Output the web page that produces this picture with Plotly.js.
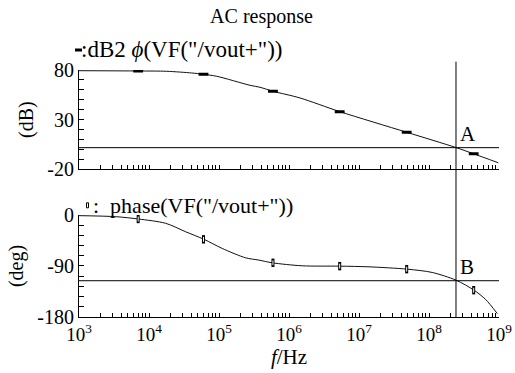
<!DOCTYPE html>
<html><head><meta charset="utf-8">
<script src="https://cdn.plot.ly/plotly-3.0.1.min.js"></script>
<style>html,body{margin:0;padding:0;background:#fff}#chart{width:515px;height:373px}</style>
</head><body><div id="chart"></div>
<script>
// ---- data ----
const freqGain = [1e3, 7.0e3, 1.79e4, 4.07e4, 5.97e4, 9.27e4, 2.77e5, 3.85e5, 5.97e5, 1.44e6, 5.35e6, 4.8e7, 2.43e8, 4.3e8, 9.77e8];
const gainDb   = [79.3, 79, 78.7, 77, 75.7, 73.7, 64.6, 62.6, 58.5, 51.8, 38, 17.3, 1.9, -4.3, -13.4];

const freqPhase = [1e3, 3.34e3, 7.03e3, 1.73e4, 3.34e4, 6.11e4, 1.11e5, 2.40e5, 3.72e5, 5.77e5, 1.55e6, 5.30e6, 1.39e7, 4.90e7, 1.11e8, 2.43e8, 4.40e8, 6.46e8, 9.46e8];
const phaseDeg  = [-1.2, -3, -7.1, -14.7, -29.6, -43, -59, -75.6, -79.6, -84.4, -89.7, -90.3, -91.5, -95.6, -101.4, -115, -132.7, -149.2, -174];

const markerFreq  = [7.0e3, 6.0e4, 5.9e5, 5.3e6, 4.8e7, 4.35e8];
const markerGain  = [79, 75.7, 58.7, 38, 17.3, -4.3];
const markerPhase = [-7.1, -43, -84.4, -90.3, -95.6, -132.7];

const cursorFreq = 2.43e8;
const unityDb = 1.8;
const crossPhase = -116;

const decades = [1e3, 1e4, 1e5, 1e6, 1e7, 1e8, 1e9];
const decadeLabels = ['10<sup>3</sup>','10<sup>4</sup>','10<sup>5</sup>','10<sup>6</sup>','10<sup>7</sup>','10<sup>8</sup>','10<sup>9</sup>'];
const digits = [2,3,4,5,6,7,8,9];
const gainTicks = [-20, 30, 80];
const gainLabels = ['-20','30','80'];
const gainMinor = [-10,0,10,20,40,50,60,70];
const phaseTicks = [-180, -90, 0];
const phaseLabels = ['-180','-90','0'];
const phaseMinor = [-162,-144,-126,-108,-72,-54,-36,-18];

// ---- build ----
const xMinor = [];
decades.slice(0, -1).forEach(d => digits.forEach(k => xMinor.push(d * k)));

const FONT = 'Liberation Serif, Times New Roman, serif';
const lineCol = '#111';

const traces = [
  {x: freqGain, y: gainDb, xaxis:'x', yaxis:'y', mode:'lines', line:{color:lineCol, width:1, shape:'spline', smoothing:0.8}, hoverinfo:'skip'},
  {x: markerFreq, y: markerGain, xaxis:'x', yaxis:'y', mode:'markers', marker:{symbol:'line-ew', size:7, line:{width:3, color:'#000'}}},
  {x: freqPhase, y: phaseDeg, xaxis:'x2', yaxis:'y2', mode:'lines', line:{color:lineCol, width:1, shape:'spline', smoothing:0.8}, hoverinfo:'skip'},
  {x: markerFreq, y: markerPhase, xaxis:'x2', yaxis:'y2', mode:'markers', marker:{symbol:'line-ns', size:6, line:{width:3, color:'#000'}}},
  {x: markerFreq, y: markerPhase, xaxis:'x2', yaxis:'y2', mode:'markers', marker:{symbol:'line-ns', size:3.5, line:{width:1, color:'#fff'}}}
];

const axCommon = {showline:true, linecolor:'#000', linewidth:1, ticks:'inside', tickcolor:'#000', tickwidth:1,
  showgrid:false, zeroline:false, tickmode:'array', fixedrange:true};
const minorOf = (vals, len) => ({tickmode:'array', tickvals:vals, ticks:'inside', ticklen:len, tickcolor:'#000', tickwidth:1, showgrid:false});

const layout = {
  width:515, height:373,
  margin:{l:79, r:16, t:60, b:56},
  paper_bgcolor:'#fff', plot_bgcolor:'#fff',
  showlegend:false,
  font:{family:FONT, color:'#000', size:20},
  title:{text:'AC response', font:{family:FONT, size:20, color:'#000'}, xref:'container', yref:'container',
         x:261.5/515, xanchor:'center', y:1-15.5/373, yanchor:'middle'},
  xaxis: Object.assign({}, axCommon, {type:'log', range:[3,9], domain:[0,1], anchor:'y', ticklen:4,
         tickvals:decades, ticktext:decadeLabels, showticklabels:false, minor:minorOf(xMinor, 4)}),
  yaxis: Object.assign({}, axCommon, {range:[-20,80], domain:[0.5747,0.9611], anchor:'x', ticklen:5,
         tickvals:gainTicks, ticktext:gainLabels, tickfont:{size:20}, minor:minorOf(gainMinor, 5),
         title:{text:'(dB)', font:{size:20}, standoff:8}}),
  xaxis2: Object.assign({}, axCommon, {type:'log', range:[3,9], domain:[0,1], anchor:'y2', ticklen:4,
         tickvals:decades, ticktext:decadeLabels, tickfont:{size:19}, minor:minorOf(xMinor, 4),
         title:{text:'<i>f</i>/Hz', font:{size:21}, standoff:4}}),
  yaxis2: Object.assign({}, axCommon, {range:[-180,0], domain:[0,0.397], anchor:'x2', ticklen:5,
         tickvals:phaseTicks, ticktext:phaseLabels, tickfont:{size:20}, minor:minorOf(phaseMinor, 5),
         title:{text:'(deg)', font:{size:20}, standoff:8}}),
  shapes:[
    {type:'line', xref:'x', yref:'paper', x0:cursorFreq, x1:cursorFreq, y0:0, y1:0.9934, line:{color:'#000', width:1}},
    {type:'line', xref:'x', yref:'y', x0:1e3, x1:1e9, y0:unityDb, y1:unityDb, line:{color:'#000', width:1}},
    {type:'line', xref:'x2', yref:'y2', x0:1e3, x1:1e9, y0:crossPhase, y1:crossPhase, line:{color:'#000', width:1}},
    {type:'rect', xref:'paper', yref:'paper', x0:(75-79)/420, x1:(82-79)/420, y0:(317-51.5)/257, y1:(317-48.5)/257,
      fillcolor:'#000', line:{width:0}},
    {type:'rect', xref:'paper', yref:'paper', x0:(86.5-79)/420, x1:(88.5-79)/420, y0:(317-207.8)/257, y1:(317-202.8)/257,
      fillcolor:'rgba(0,0,0,0)', line:{width:1, color:'#000'}}
  ],
  annotations:[
    {xref:'paper', yref:'paper', x:(79-79)/420, y:(317-50)/257, xanchor:'left', yanchor:'middle', showarrow:false,
      text:':dB2 <i>\u03d5</i>(VF("/vout+"))', font:{size:23}},
    {xref:'paper', yref:'paper', x:(91-79)/420, y:(317-205)/257, xanchor:'left', yanchor:'middle', showarrow:false,
      text:':\u00a0\u00a0phase(VF("/vout+"))', font:{size:22}},
    {xref:'x', yref:'y', x:Math.log10(cursorFreq), y:unityDb, xanchor:'left', yanchor:'bottom', xshift:2, showarrow:false,
      text:'A', font:{size:21}},
    {xref:'x2', yref:'y2', x:Math.log10(cursorFreq), y:crossPhase, xanchor:'left', yanchor:'bottom', xshift:2, showarrow:false,
      text:'B', font:{size:21}}
  ]
};

Plotly.newPlot('chart', traces, layout, {staticPlot:true, displayModeBar:false});
</script>
</body></html>
